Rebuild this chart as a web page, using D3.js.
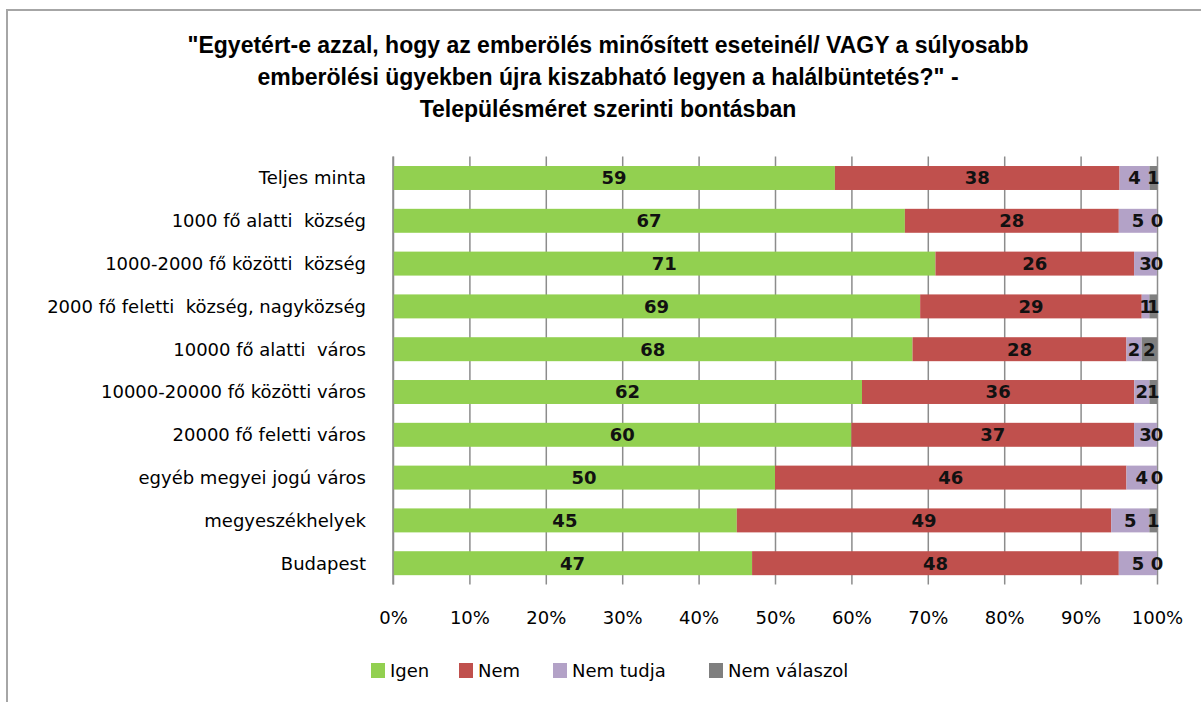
<!DOCTYPE html>
<html>
<head>
<meta charset="utf-8">
<script src="https://cdn.jsdelivr.net/npm/d3@7"></script>
<style>
  body { margin:0; background:#fff; }
  text { font-family: "DejaVu Sans", "Liberation Sans", sans-serif; }
</style>
</head>
<body>
<div class="canvas"></div>
<script>
const categories = [
  "Teljes minta",
  "1000 fő alatti  község",
  "1000-2000 fő közötti  község",
  "2000 fő feletti  község, nagyközség",
  "10000 fő alatti  város",
  "10000-20000 fő közötti város",
  "20000 fő feletti város",
  "egyéb megyei jogú város",
  "megyeszékhelyek",
  "Budapest"
];
const seriesNames = ["Igen", "Nem", "Nem tudja", "Nem válaszol"];
const colors = ["#92D050", "#C0504D", "#B3A2C7", "#7F7F7F"];
const igen      = [59, 67, 71, 69, 68, 62, 60, 50, 45, 47];
const nem       = [38, 28, 26, 29, 28, 36, 37, 46, 49, 48];
const nemTudja  = [4, 5, 3, 1, 2, 2, 3, 4, 5, 5];
const nemValasz = [1, 0, 0, 1, 2, 1, 0, 0, 1, 0];
const tickValues = [0, 0.1, 0.2, 0.3, 0.4, 0.5, 0.6, 0.7, 0.8, 0.9, 1];
const titleLines = [
  "\"Egyetért-e azzal, hogy az emberölés minősített eseteinél/ VAGY a súlyosabb",
  "emberölési ügyekben újra kiszabható legyen a halálbüntetés?\" -",
  "Településméret szerinti bontásban"
];

let dim = { width:1201, height:702 };
let svg = d3.select(".canvas").append("svg").attr("width",dim.width).attr("height",dim.height);

// outer frame
svg.append("path").attr("d","M7,702 L7,10 L1201,10").attr("fill","none").attr("stroke","#a6a6a6").attr("stroke-width",2);

const rows = categories.map((c,i) => ({
  cat:c, Igen:igen[i], Nem:nem[i], "Nem tudja":nemTudja[i], "Nem válaszol":nemValasz[i]
}));
const stacked = d3.stack().keys(seriesNames).offset(d3.stackOffsetExpand)(rows);

const x = d3.scaleLinear().domain([0,1]).range([393,1157]);
const y = d3.scaleBand().domain(categories).range([156.6,584.6]).paddingInner(0.44).paddingOuter(0.22);

// title
svg.append("g").selectAll("text").data(titleLines).join("text")
  .attr("x",608).attr("y",(d,i)=>53 + i*32)
  .attr("text-anchor","middle")
  .style("font-family","'Liberation Sans',sans-serif")
  .style("font-weight","bold").style("font-size","23px").attr("fill","#000")
  .text(d=>d);

// gridlines
svg.append("g").attr("transform","translate(0,584.6)")
  .call(d3.axisBottom(x).tickValues(tickValues).tickSize(-428).tickFormat(""))
  .call(g=>g.select(".domain").remove())
  .call(g=>g.selectAll("line").attr("stroke","#8c8c8c").attr("stroke-width",1.5));

// tick labels
svg.append("g").attr("transform","translate(0,618)")
  .call(d3.axisBottom(x).tickValues(tickValues).tickSize(0).tickFormat(d3.format(".0%")))
  .call(g=>g.select(".domain").remove())
  .call(g=>g.selectAll("text").attr("y",0).attr("dy","0.36em")
    .style("font-family","'DejaVu Sans',sans-serif").style("font-size","18px").attr("fill","#000"));

// bars
const layers = svg.append("g").selectAll("g").data(stacked).join("g").attr("fill",(d,i)=>colors[i]);
layers.selectAll("rect").data(d=>d).join("rect")
  .attr("x",d=>x(d[0])).attr("width",d=>x(d[1])-x(d[0]))
  .attr("y",d=>y(d.data.cat)).attr("height",y.bandwidth());

// value labels
layers.each(function(s){
  d3.select(this).selectAll("text").data(s).join("text")
    .attr("x",d=>(x(d[0])+x(d[1]))/2)
    .attr("y",d=>y(d.data.cat)+y.bandwidth()/2)
    .attr("dy","0.36em").attr("text-anchor","middle")
    .attr("fill","#111").style("font-weight","bold").style("font-size","18px")
    .text(d=>d.data[s.key]);
});

// category labels
svg.append("g").selectAll("text").data(categories).join("text")
  .attr("x",366).attr("y",d=>y(d)+y.bandwidth()/2).attr("dy","0.36em")
  .attr("text-anchor","end").style("font-size","18px").style("white-space","pre").attr("fill","#000")
  .text(d=>d);

// left axis line
svg.append("line").attr("x1",x(0)).attr("x2",x(0)).attr("y1",156.6).attr("y2",584.6)
  .attr("stroke","#8c8c8c").attr("stroke-width",1.5);

// legend
const legendX = [371, 459, 553, 709];
const lg = svg.append("g").selectAll("g").data(seriesNames).join("g")
  .attr("transform",(d,i)=>`translate(${legendX[i]},663)`);
lg.append("rect").attr("width",14).attr("height",15).attr("fill",(d,i)=>colors[i]);
lg.append("text").attr("x",19).attr("y",8).attr("dy","0.36em")
  .style("font-size","18px").attr("fill","#000").text(d=>d);
</script>
</body>
</html>
